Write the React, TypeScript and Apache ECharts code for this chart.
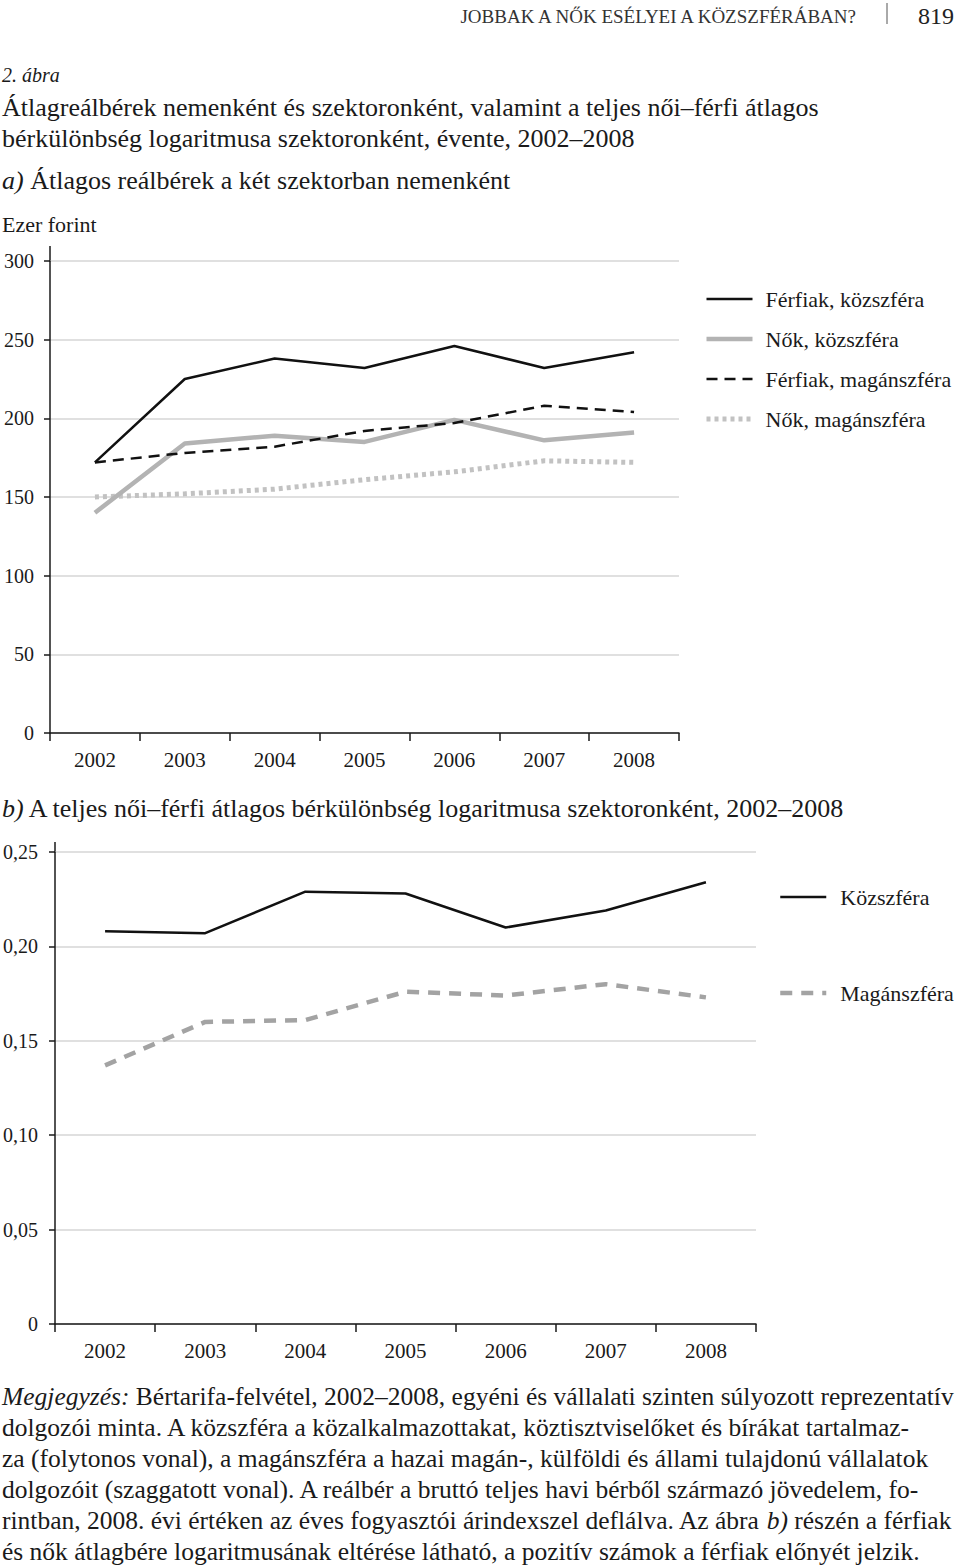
import React, { useEffect, useRef } from 'react';
import * as echarts from 'echarts';

const F = '"Liberation Serif", "DejaVu Serif", serif';
const INK = '#1a1a1a';

const years = ['2002', '2003', '2004', '2005', '2006', '2007', '2008'];

// a) Ezer forint
const menPublic = [172, 225, 238, 232, 246, 232, 242];
const womenPublic = [140, 184, 189, 185, 199, 186, 191];
const menPrivate = [172, 178, 182, 192, 197, 208, 204];
const womenPrivate = [150, 152, 155, 161, 166, 173, 172];

// b) log wage gap
const gapPublic = [0.208, 0.207, 0.229, 0.228, 0.21, 0.219, 0.234];
const gapPrivate = [0.137, 0.16, 0.161, 0.176, 0.174, 0.18, 0.173];

const headerText = 'JOBBAK A NŐK ESÉLYEI A KÖZSZFÉRÁBAN?';
const pageNumber = '819';
const titleLines = [
  'Átlagreálbérek nemenként és szektoronként, valamint a teljes női–férfi átlagos',
  'bérkülönbség logaritmusa szektoronként, évente, 2002–2008',
];
const noteLines = [
  '{i|Megjegyzés:} Bértarifa-felvétel, 2002–2008, egyéni és vállalati szinten súlyozott reprezentatív',
  'dolgozói minta. A közszféra a közalkalmazottakat, köztisztviselőket és bírákat tartalmaz-',
  'za (folytonos vonal), a magánszféra a hazai magán-, külföldi és állami tulajdonú vállalatok',
  'dolgozóit (szaggatott vonal). A reálbér a bruttó teljes havi bérből származó jövedelem, fo-',
  'rintban, 2008. évi értéken az éves fogyasztói árindexszel deflálva. Az ábra {i|b)} részén a férfiak',
  'és nők átlagbére logaritmusának eltérése látható, a pozitív számok a férfiak előnyét jelzik.',
];
const noteY = [1396, 1427, 1458, 1489, 1520, 1551];

function txt(x: number, y: number, text: string, fontSize: number, extra: any = {}) {
  return {
    type: 'text',
    x,
    y,
    style: {
      text,
      fontSize,
      fontFamily: F,
      fill: INK,
      verticalAlign: 'middle',
      align: 'left',
      rich: { i: { fontStyle: 'italic', fontSize, fontFamily: F, fill: INK } },
      ...extra,
    },
  };
}

export default function App() {
  const ref = useRef<HTMLDivElement>(null);
  useEffect(() => {
    const chart = echarts.init(ref.current!, null, { renderer: 'svg' });
    const axisLine = { show: true, lineStyle: { color: INK, width: 1.5 } };
    const axisTick = { show: true, lineStyle: { color: INK, width: 1.5 } };
    const labelStyle = { color: INK, fontSize: 21, fontFamily: F };
    const split = { show: true, lineStyle: { color: '#d6d6d6', width: 1.5 } };
    const legendText = { fontSize: 22, fontFamily: F, color: INK, lineHeight: 22, padding: [0, 0, 0, 8] };

    const graphic: any[] = [
      txt(856, 16, headerText, 19, { align: 'right', fill: '#333' }),
      { type: 'line', shape: { x1: 887, y1: 3, x2: 887, y2: 24 }, style: { stroke: '#555', lineWidth: 1 } },
      txt(918, 16, pageNumber, 24, { fill: '#222' }),
      txt(2, 75, '{i|2. ábra}', 20),
      txt(2, 107, titleLines[0], 26),
      txt(2, 138, titleLines[1], 26),
      txt(2, 180, '{i|a)} Átlagos reálbérek a két szektorban nemenként', 26),
      txt(2, 224, 'Ezer forint', 22),
      txt(2, 808, '{i|b)} A teljes női–férfi átlagos bérkülönbség logaritmusa szektoronként, 2002–2008', 26),
      { type: 'line', shape: { x1: 50, y1: 246, x2: 50, y2: 262 }, style: { stroke: INK, lineWidth: 1.5 } },
      { type: 'line', shape: { x1: 55, y1: 842, x2: 55, y2: 853 }, style: { stroke: INK, lineWidth: 1.5 } },
      ...noteLines.map((l, i) => txt(2, noteY[i], l, 25.5)),
    ];

    const mk = (name: string, xi: number, data: number[], color: string, width: number, type: any = 'solid') => ({
      name, type: 'line', xAxisIndex: xi, yAxisIndex: xi, data,
      symbol: 'none', showSymbol: false,
      itemStyle: { color },
      lineStyle: { color, width, type },
    });

    chart.setOption({
      animation: false,
      backgroundColor: '#fff',
      grid: [
        { left: 50, top: 261, width: 629, height: 472 },
        { left: 55, top: 852, width: 701, height: 472 },
      ],
      xAxis: [
        {
          type: 'category', gridIndex: 0, data: years, boundaryGap: true,
          axisLine, axisTick: { ...axisTick, length: 8 }, axisLabel: { ...labelStyle, margin: 16 },
        },
        {
          type: 'category', gridIndex: 1, data: years, boundaryGap: true,
          axisLine, axisTick: { ...axisTick, length: 8 }, axisLabel: { ...labelStyle, margin: 16 },
        },
      ],
      yAxis: [
        {
          type: 'value', gridIndex: 0, min: 0, max: 300, interval: 50,
          axisLine, axisTick: { ...axisTick, length: 6 }, splitLine: split,
          axisLabel: { ...labelStyle, fontSize: 20, margin: 16 },
        },
        {
          type: 'value', gridIndex: 1, min: 0, max: 0.25, interval: 0.05,
          axisLine, axisTick: { ...axisTick, length: 6 }, splitLine: split,
          axisLabel: {
            ...labelStyle, fontSize: 20, margin: 17,
            formatter: (v: number) => (v === 0 ? '0' : v.toFixed(2).replace('.', ',')),
          },
        },
      ],
      legend: [
        {
          data: ['Férfiak, közszféra', 'Nők, közszféra', 'Férfiak, magánszféra', 'Nők, magánszféra'],
          orient: 'vertical', left: 704, top: 288, itemWidth: 46, itemHeight: 14, itemGap: 18,
          itemStyle: { opacity: 0 },
          lineStyle: { width: 'inherit' },
          textStyle: legendText, padding: 0,
        },
        {
          data: ['Közszféra', 'Magánszféra'],
          orient: 'vertical', left: 778, top: 886, itemWidth: 46, itemHeight: 14, itemGap: 74,
          itemStyle: { opacity: 0 },
          lineStyle: { width: 'inherit' },
          textStyle: { ...legendText, padding: [0, 0, 0, 9] }, padding: 0,
        },
      ],
      series: [
        mk('Nők, magánszféra', 0, womenPrivate, '#c2c2c2', 5, [4, 4]),
        mk('Nők, közszféra', 0, womenPublic, '#b3b3b3', 4.5),
        mk('Férfiak, magánszféra', 0, menPrivate, '#111', 2.5, [11, 7]),
        mk('Férfiak, közszféra', 0, menPublic, '#111', 2.5),
        mk('Magánszféra', 1, gapPrivate, '#a3a3a3', 4.5, [12, 9]),
        mk('Közszféra', 1, gapPublic, '#111', 2.5),
      ],
      graphic,
    });
    return () => chart.dispose();
  }, []);
  return (
    <div
      ref={ref}
      style={{ position: 'absolute', left: 0, top: 0, width: 960, height: 1566, background: '#fff' }}
    />
  );
}
